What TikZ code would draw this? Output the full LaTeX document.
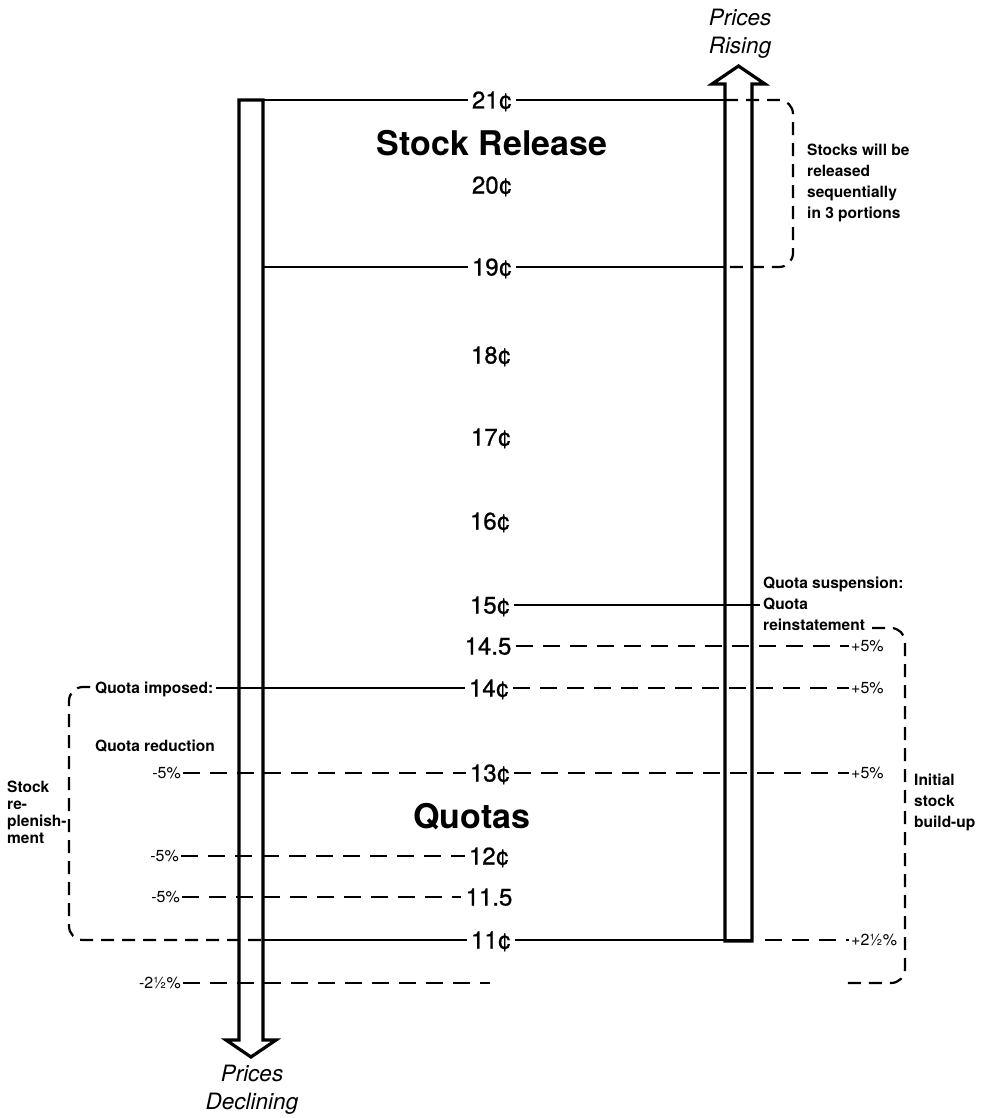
\documentclass[tikz,border=0pt]{standalone}
\usepackage{fontspec}
\setmainfont{TeX Gyre Heros}
\newfontfamily\pricefont[FakeBold=0.8]{TeX Gyre Heros}
\begin{document}
\begin{tikzpicture}[x=1pt,y=-1pt,
  price/.style={font=\pricefont\fontsize{24}{24}\selectfont, inner sep=4pt, text height=17pt, text depth=0pt},
  big/.style={font=\fontsize{34}{34}\selectfont\bfseries, inner sep=0pt},
  note/.style={font=\fontsize{15.5}{21}\selectfont\bfseries, align=left, inner sep=0pt, anchor=north west},
  lnote/.style={font=\fontsize{15.5}{17}\selectfont\bfseries, align=left, inner sep=0pt, anchor=north west},
  tag/.style={font=\fontsize{15.5}{16}\selectfont\bfseries, inner sep=3pt, text height=11pt, text depth=0pt},
  pct/.style={font=\fontsize{16}{16}\selectfont, inner sep=2pt, text height=11.5pt, text depth=0pt},
  dir/.style={font=\fontsize{22.5}{28}\selectfont\itshape, align=center, inner sep=0pt},
  shaft/.style={line width=3.2pt, line join=miter},
  solidline/.style={line width=2.2pt},
  dashline/.style={line width=2.4pt, dash pattern=on 17pt off 10pt},
  bracket/.style={line width=2.2pt, dash pattern=on 13pt off 8pt, rounded corners=14pt}]
\useasboundingbox (0,0) rectangle (990,1118);

% arrows
\draw[shaft] (239,100) -- (239,1040) -- (226,1040) -- (251,1057) -- (276,1040) -- (263,1040) -- (263,100) -- cycle;
\draw[shaft] (725,941) -- (725,84) -- (712,84) -- (738.5,66) -- (765,84) -- (752,84) -- (752,941) -- cycle;
\node[dir] (rise) at (740,34) {Prices\\Rising};
\node[dir] (decl) at (252,1090) {Prices\\Declining};

% shaft coordinates
\coordinate (L21) at (239,100);
\coordinate (R21) at (725,100);
\coordinate (L19) at (263,267);
\coordinate (R19) at (725,267);
\coordinate (R15) at (760,605);
\coordinate (L11) at (263,940);
\coordinate (R11) at (752,940);
\coordinate (D11) at (765,940);
\coordinate (E25) at (490,983);

% price labels
\node[price] (t21) at (492,100) {21¢};
\node[big] (sr) at (492,143) {Stock Release};
\node[price] (t20) at (492,185) {20¢};
\node[price] (t19) at (492,267) {19¢};
\node[price] (t18) at (491,355) {18¢};
\node[price] (t17) at (491,437) {17¢};
\node[price] (t16) at (490,521) {16¢};
\node[price] (t15) at (490,605) {15¢};
\node[price] (t145) at (488,646) {14.5};
\node[price] (t14) at (489,688) {14¢};
\node[price] (t13) at (490,773) {13¢};
\node[big] (quotas) at (472,817) {Quotas};
\node[price] (t12) at (489,856) {12¢};
\node[price] (t115) at (489,897) {11.5};
\node[price] (t11) at (491,940) {11¢};

% notes
\node[note] (stocks) at (807,144) {Stocks will be\\released\\sequentially\\in 3 portions};
\node[note] (susp) at (763,577) {Quota suspension:\\Quota\\reinstatement};
\node[note] (init) at (914,774) {Initial\\stock\\build-up};
\node[lnote] (repl) at (7,781) {Stock\\re-\\plenish-\\ment};
\node[tag, anchor=west] (imp) at (92,688) {Quota imposed:};
\node[tag, anchor=west] (red) at (92,746) {Quota reduction};

% percentage labels
\node[pct, anchor=west] (p145) at (849,646) {+5\%};
\node[pct, anchor=west] (p14) at (849,688) {+5\%};
\node[pct, anchor=west] (p13) at (849,773) {+5\%};
\node[pct, anchor=west] (p11) at (849,940) {+2½\%};
\node[pct, anchor=east] (m13) at (183,773) {-5\%};
\node[pct, anchor=east] (m12) at (181,856) {-5\%};
\node[pct, anchor=east] (m115) at (182,897) {-5\%};
\node[pct, anchor=east] (m25) at (183,983) {-2½\%};

% solid level lines
\draw[solidline] (L21) -- (t21.west);
\draw[solidline] (t21.east) -- (R21);
\draw[solidline] (L19) -- (t19.west);
\draw[solidline] (t19.east) -- (R19);
\draw[solidline] (t15.east) -- (R15);
\draw[solidline] (imp.east) -- (t14.west);
\draw[solidline] (L11) -- (t11.west);
\draw[solidline] (t11.east) -- (R11);

% dashed level lines
\draw[dashline] (t145.east) -- (p145.west);
\draw[dashline] (t14.east) -- (p14.west);
\draw[dashline] (m13.east) -- (t13.west);
\draw[dashline] (t13.east) -- (p13.west);
\draw[dashline] (m12.east) -- (t12.west);
\draw[dashline] (m115.east) -- (t115.west);
\draw[dashline] (D11) -- (p11.west);
\draw[dashline] (m25.east) -- (E25);

% brackets
\draw[bracket] (R21) -- (793,100) -- (793,267) -- (R19);
\draw[bracket] (872,628) -- (905,628) -- (905,983) -- (847,983);
\draw[bracket] (90,687) -- (69,687) -- (69,940) -- (L11);
\end{tikzpicture}
\end{document}
